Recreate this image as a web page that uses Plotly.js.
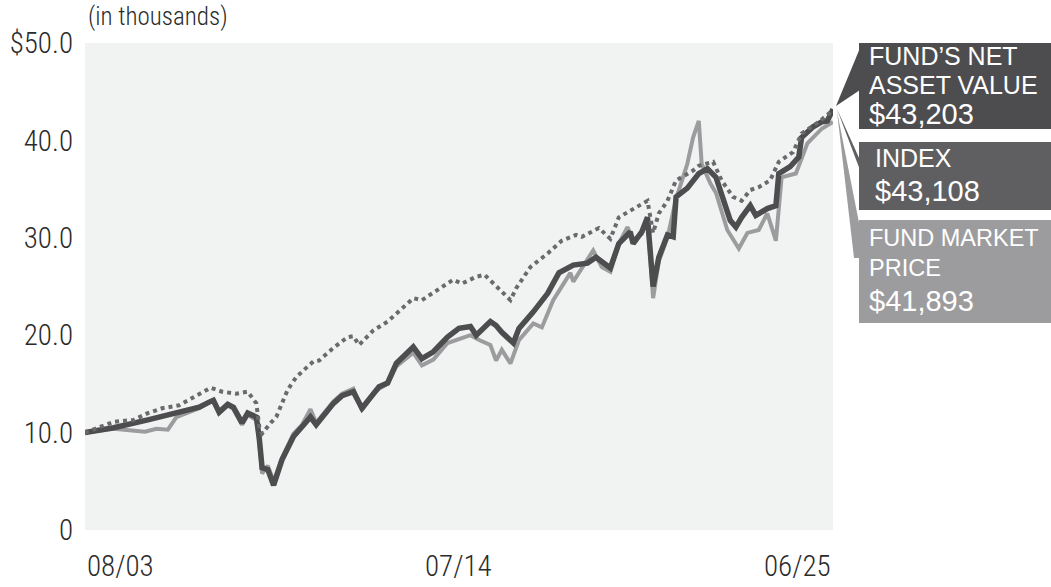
<!DOCTYPE html>
<html>
<head>
<meta charset="utf-8">
<script src="https://cdn.plot.ly/plotly-3.0.1.min.js"></script>
<style>
html,body{margin:0;padding:0;background:#fff;}
#chart{width:1051px;height:587px;}
</style>
</head>
<body>
<div id="chart"></div>
<script>
// ---- data ----
const navDates = ['2003-08','2004-06','2005-06','2006-05','2006-12','2007-04','2007-05','2007-07','2007-10','2007-12',
  '2008-03','2008-05','2008-08','2008-09','2008-10','2008-12','2009-02','2009-05','2009-09','2009-12',
  '2010-03','2010-05','2010-09','2010-11','2011-02','2011-06','2011-09','2012-01','2012-03','2012-06',
  '2012-09','2013-03','2013-06','2013-10','2014-03','2014-07','2014-11','2015-01','2015-06','2015-08',
  '2015-10','2016-02','2016-04','2016-09','2017-02','2017-06','2017-11','2018-04','2018-07','2018-12',
  '2019-03','2019-07','2019-08','2019-11','2020-01','2020-03','2020-05','2020-08','2020-10','2020-11',
  '2021-03','2021-07','2021-10','2022-01','2022-02','2022-06','2022-08','2022-10','2023-01','2023-03',
  '2023-07','2023-10','2023-11','2024-03','2024-06','2024-07','2024-11','2025-02','2025-04','2025-06'];
const navValues = [10.0,10.5,11.3,12.1,12.6,13.2,13.3,12.1,12.9,12.6,
  11.0,12.0,11.6,9.4,6.4,6.2,4.6,7.2,9.6,10.6,
  11.6,10.8,12.3,13.0,13.8,14.2,12.5,14.0,14.7,15.1,
  17.1,18.8,17.6,18.3,19.8,20.7,20.9,20.0,21.4,21.0,
  20.3,19.2,20.7,22.4,24.3,26.4,27.2,27.4,28.0,26.9,
  29.4,30.6,29.4,30.6,32.1,25.0,28.0,30.3,30.1,34.2,
  35.1,36.6,37.1,36.2,35.2,31.8,31.1,32.1,33.3,32.3,
  33.0,33.3,36.6,37.3,38.3,40.3,41.4,41.9,42.0,43.2];

const priceDates = ['2003-08','2004-06','2005-05','2005-09','2006-01','2006-04','2006-12','2007-04','2007-05','2007-07',
  '2007-10','2007-12','2008-03','2008-05','2008-08','2008-09','2008-10','2008-12','2009-02','2009-05',
  '2009-09','2009-12','2010-03','2010-05','2010-09','2010-11','2011-02','2011-06','2011-09','2012-01',
  '2012-03','2012-06','2012-09','2013-03','2013-06','2013-10','2014-03','2014-07','2014-11','2015-02',
  '2015-06','2015-08','2015-10','2016-01','2016-04','2016-09','2016-12','2017-04','2017-10','2017-11',
  '2018-06','2018-09','2018-12','2019-03','2019-06','2019-08','2019-11','2020-01','2020-03','2020-05',
  '2020-08','2020-11','2021-03','2021-05','2021-07','2021-08','2021-11','2022-01','2022-05','2022-09',
  '2022-12','2023-04','2023-07','2023-10','2023-12','2024-05','2024-09','2025-02','2025-05','2025-06'];
const priceValues = [10.0,10.4,10.1,10.4,10.3,11.6,12.5,13.3,13.4,12.0,
  12.8,12.4,10.8,11.8,11.3,9.0,5.8,6.6,5.0,7.4,
  9.9,10.8,12.4,11.0,12.4,13.2,14.0,14.5,12.3,14.0,
  14.5,15.0,16.8,18.2,16.9,17.5,19.2,19.6,20.0,19.5,
  19.0,17.4,18.5,17.1,19.5,21.2,20.8,23.6,26.4,25.5,
  28.7,27.0,26.5,29.4,31.1,29.8,30.4,32.0,23.8,27.6,
  30.0,34.0,37.6,40.3,42.0,37.6,35.6,34.6,30.8,28.9,
  30.5,30.8,32.5,29.7,36.2,36.6,39.7,41.2,41.7,41.9];

const indexDates = ['2003-08','2004-06','2005-01','2005-06','2005-11','2006-05','2006-11','2007-04','2007-08','2008-01',
  '2008-05','2008-08','2008-09','2008-10','2009-01','2009-03','2009-07','2009-10','2010-02','2010-04',
  '2010-06','2010-11','2011-04','2011-06','2011-08','2012-01','2012-06','2012-09','2013-03','2013-06',
  '2013-11','2014-05','2014-08','2015-01','2015-04','2015-07','2015-09','2016-01','2016-03','2016-08',
  '2017-02','2017-07','2017-12','2018-02','2018-08','2018-12','2019-03','2019-08','2020-01','2020-03',
  '2020-05','2020-08','2020-11','2021-05','2021-07','2021-12','2022-03','2022-07','2022-10','2023-01',
  '2023-04','2023-08','2023-11','2024-04','2024-07','2025-01','2025-06'];
const indexValues = [10.0,11.1,11.3,12.0,12.5,12.8,13.8,14.6,14.2,14.0,
  14.2,13.0,10.6,9.9,11.0,11.6,14.4,15.7,16.8,17.3,
  17.4,18.7,19.8,19.9,19.0,20.5,21.4,22.2,23.8,23.6,
  24.6,25.7,25.3,26.0,26.2,25.3,24.8,23.6,24.8,27.0,
  28.4,29.7,30.3,30.1,31.0,29.9,32.1,33.0,33.8,30.5,
  32.5,33.8,35.9,36.9,37.4,37.8,35.9,34.2,33.8,34.9,
  35.2,35.9,37.8,38.8,40.7,41.9,43.1];

const yTickVals = [0,10,20,30,40,50];
const yTickText = ['0','10.0','20.0','30.0','40.0','$50.0'];
const xTickDates = ['2003-08-01','2014-07-01','2025-06-01'];
const xTickText = ['08/03','07/14','06/25'];
const seriesNames = ["FUND’S NET ASSET VALUE","INDEX","FUND MARKET PRICE"];
const labelLines = [["FUND’S NET","ASSET VALUE","$43,203"],["INDEX","$43,108"],["FUND MARKET","PRICE","$41,893"]];
const unitNote = '(in thousands)';

// ---- geometry helpers (pixel -> paper) ----
const L = 85, R = 833, T = 43, B = 530;
const px = x => (x - L) / (R - L);
const py = y => (B - y) / (B - T);

const NAV_C = '#4d4d4f', IDX_C = '#5f5f61', MKT_C = '#9c9c9e', IDX_LINE = '#6a6a6c';
const narrow = '"Roboto Condensed", "Liberation Sans Narrow", "Arial Narrow", sans-serif';
const arial = '"Liberation Sans", Arial, sans-serif';
const TXT = '#2b2b2b';

const traces = [
  {x: priceDates, y: priceValues, type: 'scatter', mode: 'lines', name: seriesNames[2],
   line: {color: MKT_C, width: 4}},
  {x: navDates, y: navValues, type: 'scatter', mode: 'lines', name: seriesNames[0],
   line: {color: NAV_C, width: 5.5}},
  {x: indexDates, y: indexValues, type: 'scatter', mode: 'lines', name: seriesNames[1],
   line: {color: IDX_LINE, width: 4, dash: '4px,4px'}}
];

function poly(pts, color) {
  let d = 'M ' + pts.map(p => px(p[0]).toFixed(4) + ',' + py(p[1]).toFixed(4)).join(' L ') + ' Z';
  return {type: 'path', xref: 'paper', yref: 'paper', path: d, fillcolor: color, line: {width: 0}, layer: 'above'};
}
function rect(x0, y0, x1, y1, color) {
  return {type: 'rect', xref: 'paper', yref: 'paper', x0: px(x0), x1: px(x1), y0: py(y1), y1: py(y0),
          fillcolor: color, line: {width: 0}, layer: 'above'};
}

const shapes = [
  rect(859, 43, 1051, 129, NAV_C),
  rect(859, 142, 1051, 210, IDX_C),
  rect(859, 220, 1051, 323, MKT_C),
  poly([[836,106],[860,48],[860,90]], NAV_C),
  poly([[837,109],[860,160],[860,170]], IDX_C),
  poly([[837,111],[854,258],[866,258]], MKT_C)
];

const annotations = [];
const boxLines = [
  {lines: labelLines[0], x: 867, ys: [56, 85, 114], sizes: [25, 25, 29]},
  {lines: labelLines[1], x: 873, ys: [158, 191], sizes: [25, 29]},
  {lines: labelLines[2], x: 867, ys: [238, 268, 301], sizes: [23.5, 23.5, 29]}
];
boxLines.forEach(b => b.lines.forEach((t, i) => annotations.push({
  xref: 'paper', yref: 'paper', x: px(b.x), y: py(b.ys[i]), xanchor: 'left', yanchor: 'middle',
  text: t, showarrow: false, font: {family: arial, size: b.sizes[i], color: '#ffffff'}
})));
const anchors = ['left', 'center', 'right'];
xTickDates.forEach((d, i) => annotations.push({
  xref: 'x', yref: 'paper', x: d, y: py(566), xanchor: anchors[i], yanchor: 'middle',
  text: xTickText[i], showarrow: false, font: {family: narrow, size: 29, weight: 300, color: TXT}
}));
annotations.push({xref: 'paper', yref: 'paper', x: px(86), y: py(17), xanchor: 'left', yanchor: 'middle',
  text: unitNote, showarrow: false, font: {family: narrow, size: 25, weight: 300, color: TXT}});

const layout = {
  width: 1051, height: 587,
  margin: {l: L, r: 1051 - R, t: T, b: 587 - B, pad: 0},
  paper_bgcolor: '#ffffff', plot_bgcolor: '#f1f2f2',
  showlegend: false,
  xaxis: {type: 'date', range: ['2003-08-01', '2025-06-01'], showgrid: false, zeroline: false,
          showline: false, showticklabels: false, ticks: ''},
  yaxis: {range: [0, 50], tickvals: yTickVals, ticktext: yTickText, showgrid: false, zeroline: false,
          showline: false, ticks: '', ticklabelstandoff: 11,
          tickfont: {family: narrow, size: 29, weight: 300, color: TXT}},
  shapes: shapes,
  annotations: annotations
};

Plotly.newPlot('chart', traces, layout, {displayModeBar: false, staticPlot: true});
</script>
</body>
</html>
